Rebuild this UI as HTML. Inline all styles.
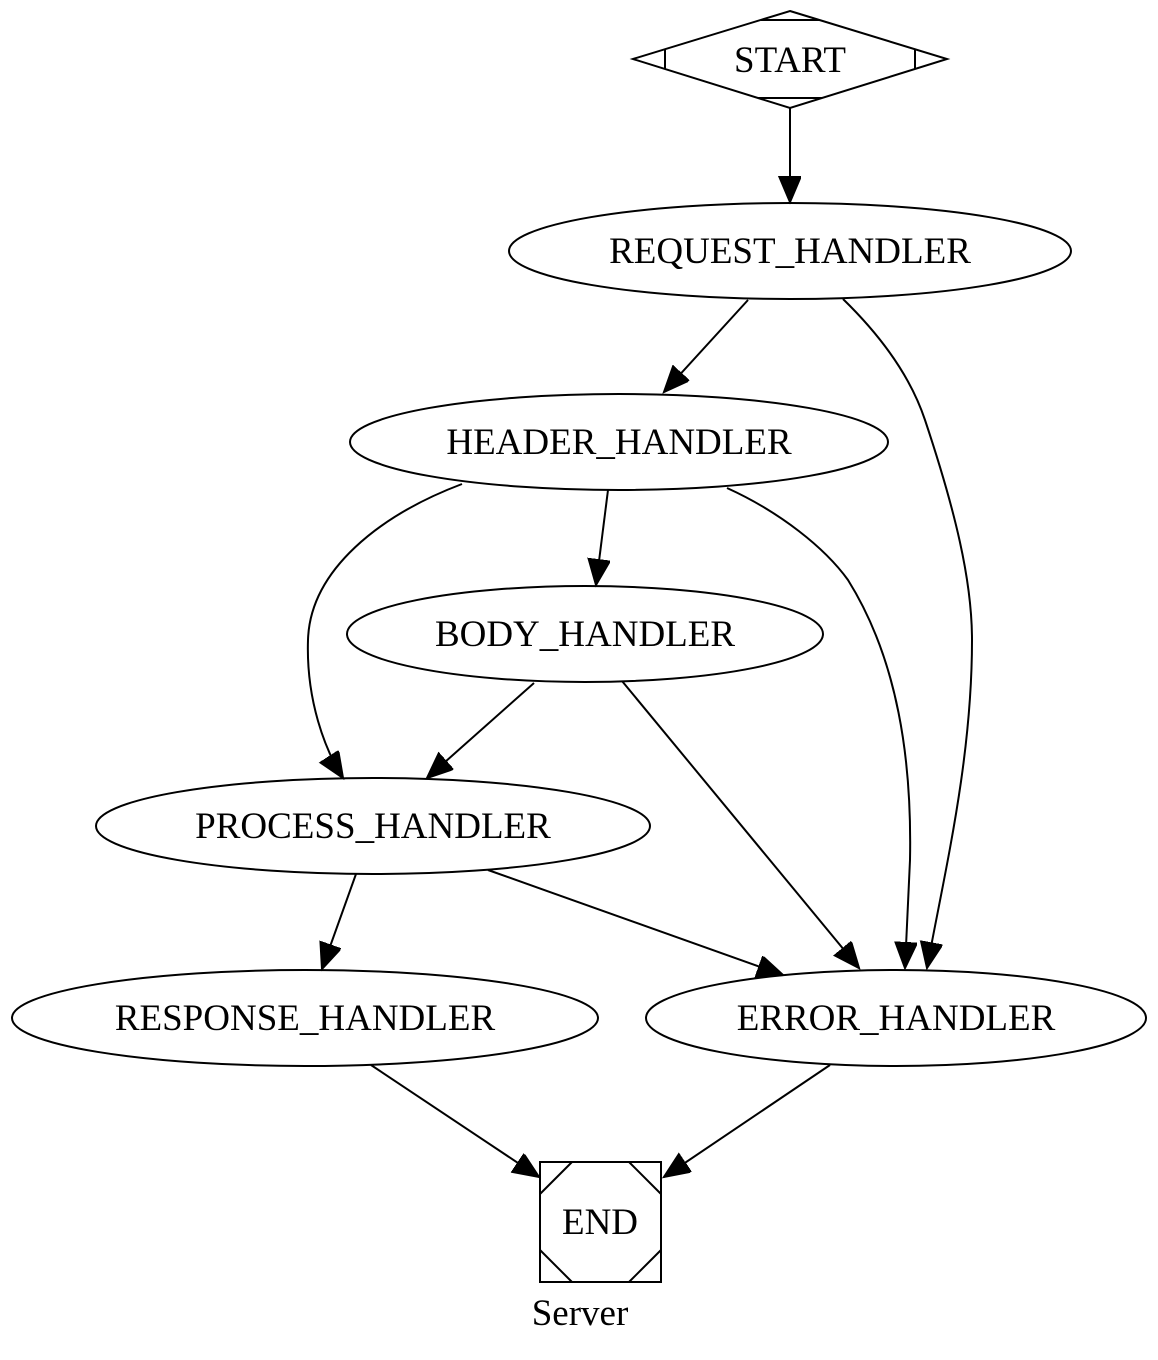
<!DOCTYPE html>
<html><head><style>body{margin:0;background:#fff}svg{display:block}text{font-family:"Liberation Serif",serif;font-size:37px;fill:#000}</style></head>
<body>
<svg width="1158" height="1360" viewBox="0 0 1158 1360">
<defs><marker id="a" markerUnits="userSpaceOnUse" markerWidth="30" markerHeight="24" refX="26" refY="11" orient="auto"><path d="M0,0 L26,11 L0,22 Z" fill="#000" stroke="#000" stroke-width="2"/></marker></defs>
<g fill="none" stroke="#000" stroke-width="2">
<polygon points="790,11 947,59 790,108 633,59"/>
<path d="M761,20 L819,20 M758,98 L822,98 M665,49 L665,69 M915,49 L915,69"/>
<rect x="540" y="1162" width="121" height="120"/>
<path d="M540,1194 L572,1162 M629,1162 L661,1194 M540,1250 L572,1282 M629,1282 L661,1250"/>
<ellipse cx="790" cy="251" rx="281" ry="48"/>
<ellipse cx="619" cy="442" rx="269" ry="48"/>
<ellipse cx="585" cy="634" rx="238" ry="48"/>
<ellipse cx="373" cy="826" rx="277" ry="48"/>
<ellipse cx="305" cy="1018" rx="293" ry="48"/>
<ellipse cx="896" cy="1018" rx="250" ry="48"/>
<g marker-end="url(#a)">
<path d="M790,108 L790,202"/>
<path d="M748,300 L664,392"/>
<path d="M843,299 C880,335 910,375 925,420 C955,510 972,580 972,640 C972,760 945,870 927,968"/>
<path d="M608,490 L596,585"/>
<path d="M462,484 C380,515 310,570 308,640 C306,700 325,750 343,778"/>
<path d="M727,488 C780,512 825,548 848,580 C898,660 912,760 910,860 L905,968"/>
<path d="M534,683 L427,778"/>
<path d="M622,681 L859,968"/>
<path d="M356,874 L322,969"/>
<path d="M488,870 L783,975"/>
<path d="M371,1065 L539,1177"/>
<path d="M830,1065 L664,1177"/>
</g></g>
<g text-anchor="middle">
<text x="790" y="72">START</text>
<text x="790" y="263">REQUEST_HANDLER</text>
<text x="619" y="454">HEADER_HANDLER</text>
<text x="585" y="646">BODY_HANDLER</text>
<text x="373" y="838">PROCESS_HANDLER</text>
<text x="305" y="1030">RESPONSE_HANDLER</text>
<text x="896" y="1030">ERROR_HANDLER</text>
<text x="600" y="1234">END</text>
<text x="580" y="1325">Server</text>
</g>
</svg>
</body></html>
